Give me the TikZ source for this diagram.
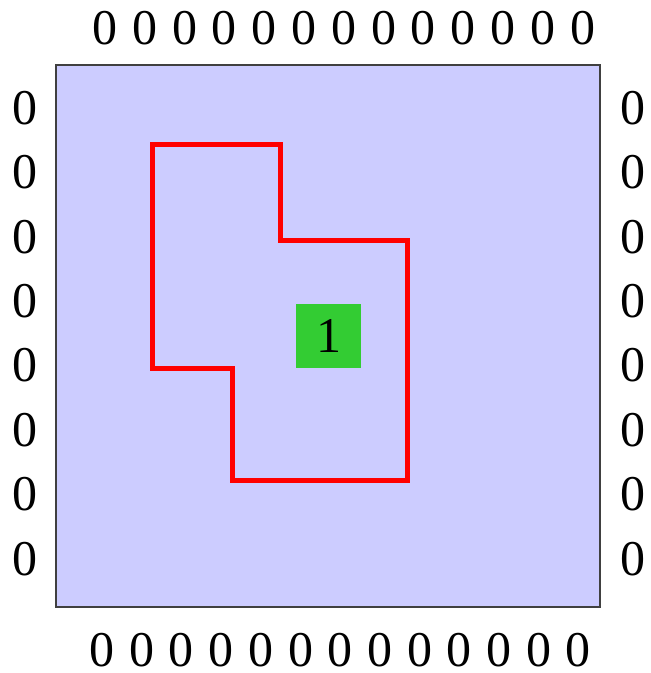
\documentclass[tikz,border=0pt]{standalone}
\usepackage{fontspec}
\setmainfont{Liberation Serif}
\definecolor{gridblue}{HTML}{CCCCFF}
\definecolor{cellgreen}{HTML}{33CC33}
\begin{document}
\begin{tikzpicture}[x=1pt,y=-1pt,
  lbl/.style={inner sep=0pt,font=\fontsize{50}{50}\selectfont},
  board/.style={fill=gridblue,draw=black!75,line width=1.5pt},
  region/.style={draw=red,line width=5pt,line join=miter},
  cell/.style={fill=cellgreen,minimum width=65pt,minimum height=64pt,inner sep=0pt,font=\fontsize{50}{50}\selectfont}]
\useasboundingbox (0,0) rectangle (651,673);
\draw[board] (56,65) rectangle (600,607);
\foreach \i in {0,...,12} {
  \node[lbl] (t\i) at ({105+39.8*\i},28) {0};
  \node[lbl] (b\i) at ({102+39.7*\i},650) {0};
}
\foreach \j in {0,...,7} {
  \node[lbl] (l\j) at (25,{108+64.4*\j}) {0};
  \node[lbl] (r\j) at (633,{108+64.4*\j}) {0};
}
\draw[region] (152.5,144.5) -- (280,144.5) -- (280,240) -- (407,240) -- (407,480) -- (232,480) -- (232,368) -- (152.5,368) -- cycle;
\node[cell] (one) at (328.5,336) {1};
\end{tikzpicture}
\end{document}
